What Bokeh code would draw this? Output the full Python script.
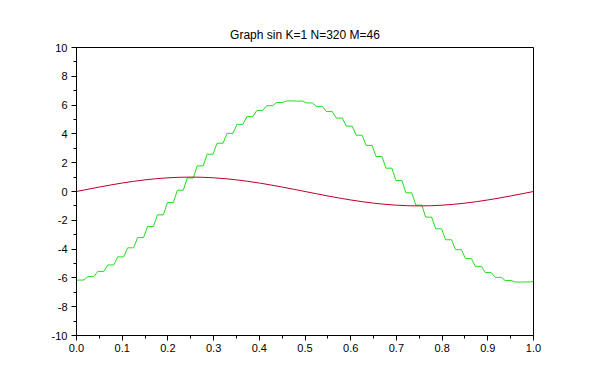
from bokeh.plotting import figure
from bokeh.models import FixedTicker, Range1d, Title
from bokeh.embed import file_html
from bokeh.resources import INLINE

# --- data ---
title_text = "Graph sin K=1 N=320 M=46"
M = 46

red_x = [0.0, 0.025, 0.05, 0.075, 0.1, 0.125, 0.15, 0.175, 0.2, 0.225, 0.25,
         0.275, 0.3, 0.325, 0.35, 0.375, 0.4, 0.425, 0.45, 0.475, 0.5,
         0.525, 0.55, 0.575, 0.6, 0.625, 0.65, 0.675, 0.7, 0.725, 0.75,
         0.775, 0.8, 0.825, 0.85, 0.875, 0.9, 0.925, 0.95, 0.975, 1.0]
red_y = [0.0, 0.156, 0.309, 0.454, 0.588, 0.707, 0.809, 0.891, 0.951, 0.988, 1.0,
         0.988, 0.951, 0.891, 0.809, 0.707, 0.588, 0.454, 0.309, 0.156, 0.0,
         -0.156, -0.309, -0.454, -0.588, -0.707, -0.809, -0.891, -0.951, -0.988, -1.0,
         -0.988, -0.951, -0.891, -0.809, -0.707, -0.588, -0.454, -0.309, -0.156, 0.0]

# green curve: value at x=0, level of each of the M stair steps, value at x=1
green_start = -6.20
green_levels = [-6.15, -5.91, -5.55, -5.10, -4.54, -3.91, -3.20, -2.43, -1.62, -0.77,
                0.09, 0.94, 1.78, 2.59, 3.35, 4.04, 4.66, 5.20, 5.63, 5.96,
                6.18, 6.29, 6.28, 6.15, 5.91, 5.55, 5.10, 4.54, 3.91, 3.20,
                2.43, 1.62, 0.77, -0.09, -0.94, -1.78, -2.59, -3.35, -4.04, -4.66,
                -5.20, -5.63, -5.96, -6.18, -6.29, -6.28]
green_end = -6.22

x_ticks = [0.0, 0.1, 0.2, 0.3, 0.4, 0.5, 0.6, 0.7, 0.8, 0.9, 1.0]
x_minor = [0.05, 0.15, 0.25, 0.35, 0.45, 0.55, 0.65, 0.75, 0.85, 0.95]
y_ticks = [-10, -8, -6, -4, -2, 0, 2, 4, 6, 8, 10]
y_minor = [-9, -7, -5, -3, -1, 1, 3, 5, 7, 9]

# staircase vertices: each step is a flat run followed by a ramp to the next level
gx, gy = [0.0], [green_start]
for k in range(M):
    gx += [(k + 0.15) / M, (k + 0.75) / M]
    gy += [green_levels[k], green_levels[k]]
gx.append(1.0)
gy.append(green_end)

W, H = 594, 366
p = figure(width=W, height=H, output_backend="svg", toolbar_location=None,
           x_range=Range1d(0, 1), y_range=Range1d(-10, 10),
           min_border_left=76, min_border_right=61, min_border_top=47, min_border_bottom=31)
p.title = None
p.add_layout(Title(text=title_text, align="center", text_font="Liberation Sans",
                   text_font_size="12px", text_font_style="normal", text_color="black",
                   standoff=12), "above")

p.line(gx, gy, line_color="#22dd22", line_width=1)
p.line(red_x, red_y, line_color="#bb0028", line_width=1)

p.grid.visible = False
p.outline_line_color = "black"
p.outline_line_alpha = 1
p.outline_line_width = 1
p.background_fill_color = "white"
p.border_fill_color = "white"

for ax in (p.xaxis[0], p.yaxis[0]):
    ax.axis_line_color = "black"
    ax.major_tick_line_color = "black"
    ax.minor_tick_line_color = "black"
    ax.major_tick_out = 5
    ax.major_tick_in = 0
    ax.minor_tick_out = 3
    ax.minor_tick_in = 0
    ax.major_label_text_font = "Liberation Sans"
    ax.major_label_text_font_size = "11px"
    ax.major_label_text_color = "black"

p.xaxis[0].ticker = FixedTicker(ticks=x_ticks, minor_ticks=x_minor)
p.xaxis[0].major_label_overrides = {t: f"{t:.1f}" for t in x_ticks}
p.xaxis[0].major_label_standoff = 3
p.yaxis[0].ticker = FixedTicker(ticks=y_ticks, minor_ticks=y_minor)
p.yaxis[0].major_label_overrides = {t: str(t) for t in y_ticks}
p.yaxis[0].major_label_standoff = 4

open("out.html", "w").write(file_html(p, INLINE))
